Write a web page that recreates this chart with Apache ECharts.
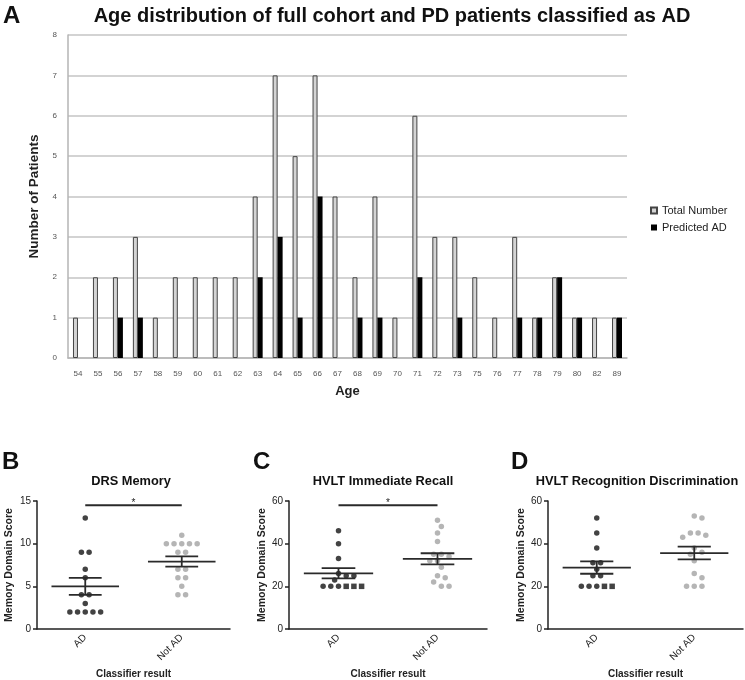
<!DOCTYPE html>
<html>
<head>
<meta charset="utf-8">
<script src="https://cdn.jsdelivr.net/npm/echarts/dist/echarts.min.js"></script>
<style>html,body{margin:0;padding:0;background:#fff}#c{width:745px;height:680px}</style>
</head>
<body>
<div id="c"></div>
<script>
// ---------- Panel A data ----------
const ages = ['54','55','56','57','58','59','60','61','62','63','64','65','66','67','68','69','70','71','72','73','75','76','77','78','79','80','82','89'];
const totalNumber = [1,2,2,3,1,2,2,2,2,4,7,5,7,4,2,4,1,6,3,3,2,1,3,1,2,1,1,1];
const predictedAD = [0,0,1,1,0,0,0,0,0,2,3,1,4,0,1,1,0,2,0,1,0,0,1,1,2,1,0,1];
const classes = ['AD','Not AD'];

// ---------- Panel B: DRS Memory ----------
const drsAD = [13,9,9,7,6,4,4,3,2,2,2,2,2];
const drsNotAD = [11,10,10,10,10,10,9,9,7,7,6,6,5,4,4];
const drsMean = [5.0, 7.9];
const drsSEM = [1.0, 0.6];
const drsSigY = 14.5;

// ---------- Panel C: HVLT Immediate Recall ----------
const irAD = [46,40,33,26,25,25,23,20,20,20,20,20,20];
const irNotAD = [51,48,45,41,35,35,34,32,32,29,25,24,22,20,20];
const irMean = [26.1, 32.9];
const irSEM = [2.4, 2.6];
const irSigY = 58;

// ---------- Panel D: HVLT Recognition Discrimination ----------
const rdAD = [52,45,38,31,31,28,25,25,20,20,20,20,20];
const rdNotAD = [53,52,45,45,44,43,38,36,35,32,26,24,20,20,20];
const rdMean = [28.8, 35.6];
const rdSEM = [2.9, 3.0];

// ---------- layout ----------
const FONT = "'Liberation Sans', Arial, sans-serif";
const grids = [
  {left:68, top:35, width:559, height:323},
  {left:37, top:501, width:193, height:129},
  {left:289, top:501, width:198, height:129},
  {left:548, top:501, width:195, height:129}
];
const yMax = [8, 15, 60, 60];
const yInt = [1, 5, 20, 20];

// beeswarm layout (horizontal spreading of overlapping points)
function swarm(values, center, g, ymax, squareFrom) {
  const pxPerX = g.width / 2, pxPerY = g.height / ymax;
  const spacing = 7.7, minDist = 7.3;
  const counts = {};
  values.forEach(v => counts[v] = (counts[v] || 0) + 1);
  const keys = Object.keys(counts).map(Number).sort((a, b) => b - a);
  const minVal = Math.min.apply(null, values);
  const placed = [], out = [];
  const shifts = [0];
  for (let k = 1; k < 12; k++) shifts.push(k * spacing / 2, -k * spacing / 2);
  keys.forEach(v => {
    const n = counts[v];
    const base = [];
    for (let i = 0; i < n; i++) base.push((i - (n - 1) / 2) * spacing);
    let chosen = base;
    for (const s of shifts) {
      const cand = base.map(b => b + s);
      const ok = cand.every(cx => placed.every(p => Math.hypot(cx - p.x, (v - p.v) * pxPerY) >= minDist));
      if (ok) { chosen = cand; break; }
    }
    chosen.forEach((cx, i) => {
      placed.push({x: cx, v: v});
      const item = {value: [center + cx / pxPerX, v]};
      if (squareFrom != null && v === minVal && i >= squareFrom) { item.symbol = 'rect'; item.symbolSize = 5.5; }
      out.push(item);
    });
  });
  return out;
}

const panels = [
  {ad: drsAD, nad: drsNotAD, mean: drsMean, sem: drsSEM, sig: drsSigY, sq: null, gap: 22},
  {ad: irAD, nad: irNotAD, mean: irMean, sem: irSEM, sig: irSigY, sq: 3, gap: 18},
  {ad: rdAD, nad: rdNotAD, mean: rdMean, sem: rdSEM, sig: null, sq: 3, gap: 19}
];

const xAxes = [{
  gridIndex: 0, type: 'category', data: ages,
  axisLine: {lineStyle: {color: '#b5b5b5', width: 1.5}},
  axisTick: {show: false},
  axisLabel: {interval: 0, fontSize: 8, color: '#555', margin: 12, fontFamily: FONT},
  name: 'Age', nameLocation: 'middle', nameGap: 27,
  nameTextStyle: {fontWeight: 'bold', fontSize: 13, color: '#222', fontFamily: FONT}
}];
const yAxes = [{
  gridIndex: 0, type: 'value', min: 0, max: 8, interval: 1,
  axisLine: {show: true, onZero: false, lineStyle: {color: '#b5b5b5', width: 1.5}},
  axisTick: {show: false},
  splitLine: {lineStyle: {color: '#c4c4c4', width: 1.5}},
  axisLabel: {fontSize: 8, color: '#555', margin: 11, fontFamily: FONT},
  name: 'Number of Patients', nameLocation: 'middle', nameGap: 22,
  nameTextStyle: {fontWeight: 'bold', fontSize: 13.5, color: '#222', fontFamily: FONT}
}];
const series = [
  {type: 'bar', name: 'Total Number', xAxisIndex: 0, yAxisIndex: 0, data: totalNumber,
   barWidth: 5, barGap: '0%', itemStyle: {color: '#d4d4d4', borderColor: '#444', borderWidth: 1}},
  {type: 'bar', name: 'Predicted AD', xAxisIndex: 0, yAxisIndex: 0, data: predictedAD,
   barWidth: 5, barGap: '0%', itemStyle: {color: '#000', borderWidth: 0}}
];

panels.forEach((p, k) => {
  const gi = k + 1;
  xAxes.push({
    gridIndex: gi, type: 'category', data: classes, position: 'bottom',
    axisLine: {onZero: false, lineStyle: {color: '#222', width: 1.5}},
    axisTick: {alignWithLabel: true, length: 5, lineStyle: {color: '#222', width: 1.5}},
    axisLabel: {rotate: 45, fontSize: 10, color: '#222', margin: 7, fontFamily: FONT},
    name: 'Classifier result', nameLocation: 'middle', nameGap: 40,
    nameTextStyle: {fontWeight: 'bold', fontSize: 10, color: '#222', fontFamily: FONT}
  });
  const valIdx = xAxes.length;
  xAxes.push({gridIndex: gi, type: 'value', min: -0.5, max: 1.5, show: false, position: 'top'});
  yAxes.push({
    gridIndex: gi, type: 'value', min: 0, max: yMax[gi], interval: yInt[gi],
    axisLine: {show: true, onZero: false, lineStyle: {color: '#222', width: 1.5}},
    axisTick: {show: true, length: 4, lineStyle: {color: '#222', width: 1.5}},
    splitLine: {show: false},
    axisLabel: {fontSize: 10, color: '#222', margin: 6, fontFamily: FONT},
    name: 'Memory Domain Score', nameLocation: 'middle', nameGap: p.gap,
    nameTextStyle: {fontWeight: 'bold', fontSize: 10.5, color: '#222', fontFamily: FONT}
  });
  const yi = gi;
  series.push({type: 'scatter', xAxisIndex: valIdx, yAxisIndex: yi, symbolSize: 5.5,
    itemStyle: {color: '#141414'}, data: swarm(p.ad, 0, grids[gi], yMax[gi], p.sq), z: 3});
  series.push({type: 'scatter', xAxisIndex: valIdx, yAxisIndex: yi, symbolSize: 5.5,
    itemStyle: {color: '#a3a3a3'}, data: swarm(p.nad, 1, grids[gi], yMax[gi], null), z: 3});
  series.push({
    type: 'custom', xAxisIndex: valIdx, yAxisIndex: yi, z: 5,
    encode: {x: 0, y: 1},
    data: p.mean.map((m, i) => [i, m, p.sem[i]]),
    renderItem: function (params, api) {
      const x = api.value(0), m = api.value(1), s = api.value(2);
      const st = {stroke: '#2a2a2a', lineWidth: 1.8};
      const L = (a, b) => ({type: 'line', shape: {x1: a[0], y1: a[1], x2: b[0], y2: b[1]}, style: st});
      return {type: 'group', children: [
        L(api.coord([x - 0.35, m]), api.coord([x + 0.35, m])),
        L(api.coord([x - 0.17, m + s]), api.coord([x + 0.17, m + s])),
        L(api.coord([x - 0.17, m - s]), api.coord([x + 0.17, m - s])),
        L(api.coord([x, m - s]), api.coord([x, m + s]))
      ]};
    }
  });
  if (p.sig != null) {
    series.push({
      type: 'custom', xAxisIndex: valIdx, yAxisIndex: yi, z: 5,
      encode: {x: 0, y: 1},
      data: [[0.5, p.sig]],
      renderItem: function (params, api) {
        const yv = api.value(1);
        const a = api.coord([0, yv]), b = api.coord([1, yv]);
        return {type: 'group', children: [
          {type: 'line', shape: {x1: a[0], y1: a[1], x2: b[0], y2: b[1]}, style: {stroke: '#2a2a2a', lineWidth: 1.8}},
          {type: 'text', x: (a[0] + b[0]) / 2, y: a[1] - 2,
           style: {text: '*', font: '10px ' + FONT, fill: '#222', align: 'center', verticalAlign: 'middle', textAlign: 'center', textVerticalAlign: 'middle'}}
        ]};
      }
    });
  }
});

function txt(x, y, text, font, align) {
  return {type: 'text', x: x, y: y, style: {text: text, font: font, fill: '#111',
    align: align || 'center', verticalAlign: 'middle', textAlign: align || 'center', textVerticalAlign: 'middle'}};
}

const option = {
  animation: false,
  backgroundColor: '#fff',
  grid: grids,
  xAxis: xAxes,
  yAxis: yAxes,
  legend: {
    orient: 'vertical', left: 645, top: 200, itemWidth: 6, itemHeight: 6, itemGap: 6,
    icon: 'rect', data: ['Total Number', 'Predicted AD'],
    textStyle: {fontSize: 11, color: '#222', fontFamily: FONT}
  },
  graphic: [
    txt(392, 16, 'Age distribution of full cohort and PD patients classified as AD', 'bold 20px ' + FONT),
    txt(3, 16, 'A', 'bold 24px ' + FONT, 'left'),
    txt(2, 462, 'B', 'bold 24px ' + FONT, 'left'),
    txt(253, 462, 'C', 'bold 24px ' + FONT, 'left'),
    txt(511, 462, 'D', 'bold 24px ' + FONT, 'left'),
    txt(131, 481, 'DRS Memory', 'bold 12.8px ' + FONT),
    txt(383, 481, 'HVLT Immediate Recall', 'bold 12.8px ' + FONT),
    txt(637, 481, 'HVLT Recognition Discrimination', 'bold 12.8px ' + FONT)
  ],
  series: series
};
const chart = echarts.init(document.getElementById('c'), null, {renderer: 'canvas'});
chart.setOption(option);
</script>
</body>
</html>
